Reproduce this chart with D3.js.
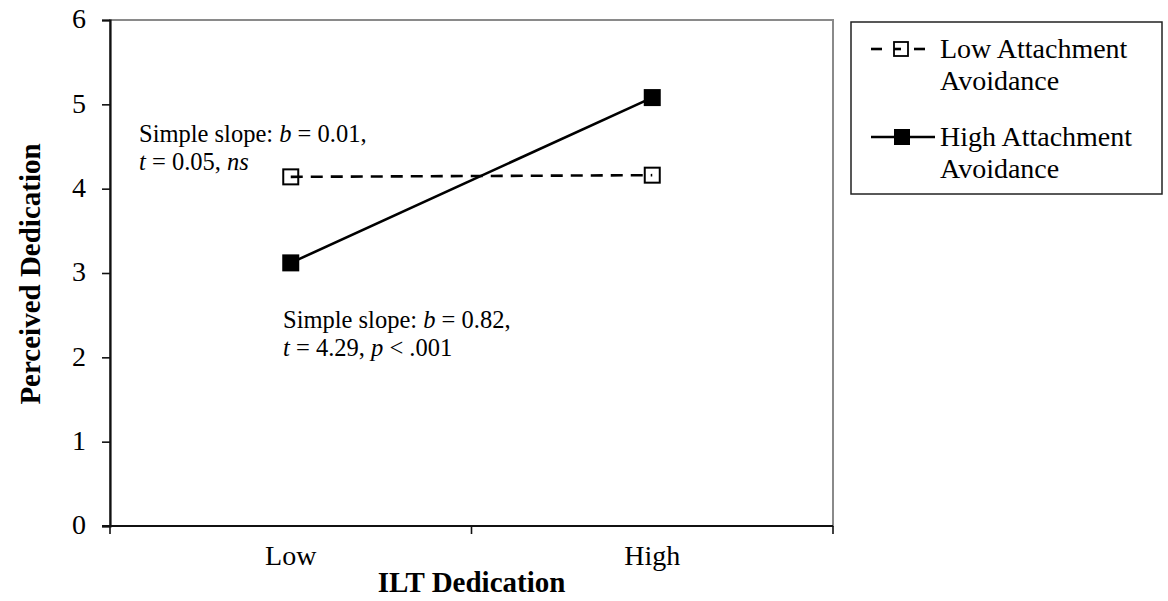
<!DOCTYPE html>
<html><head><meta charset="utf-8">
<script src="https://cdn.jsdelivr.net/npm/d3@7"></script>
<style>
body{margin:0;background:#fff;}
svg{display:block;font-family:"Liberation Serif","Times New Roman",serif;}
svg text{font-family:"Liberation Serif","Times New Roman",serif;}
</style></head>
<body><svg id="c" width="1168" height="601"></svg>
<script>
const categories = ["Low", "High"];
const seriesNames = ["Low Attachment Avoidance", "High Attachment Avoidance"];
const lowAvoidance = [4.14, 4.16];
const highAvoidance = [3.12, 5.08];
const yTicks = [0, 1, 2, 3, 4, 5, 6];

const svg = d3.select("#c");
const m = {l: 110, r: 833, t: 20, b: 526};
const x = d3.scaleBand().domain(categories).range([m.l, m.r]).padding(0);
const y = d3.scaleLinear().domain([0, 6]).range([m.b, m.t]);
const cx = d => x(d) + x.bandwidth() / 2;

// plot border (gray)
svg.append("rect").attr("x", m.l).attr("y", m.t).attr("width", m.r - m.l).attr("height", m.b - m.t)
  .attr("fill", "none").attr("stroke", "#8a8a8a").attr("stroke-width", 2);

// y axis
const yAxis = svg.append("g").attr("transform", `translate(${m.l},0)`)
  .call(d3.axisLeft(y).tickValues(yTicks).tickSize(8).tickPadding(16).tickFormat(d3.format("d")));
yAxis.attr("font-family", null).attr("font-size", null);
yAxis.select(".domain").attr("stroke", "#111").attr("stroke-width", 2.2);
yAxis.selectAll(".tick line").attr("stroke", "#111").attr("stroke-width", 1.6);
yAxis.selectAll("text").attr("font-size", 28).attr("fill", "#000").attr("dy", "0.28em");

// x axis: ticks at band edges
const xg = svg.append("g").attr("transform", `translate(0,${m.b})`);
xg.append("line").attr("x1", m.l - 8).attr("x2", m.r).attr("stroke", "#111").attr("stroke-width", 2.2);
const edges = [x(categories[0]), x(categories[1]), x(categories[1]) + x.bandwidth()];
xg.selectAll(".tk").data(edges).join("line").attr("x1", d => d).attr("x2", d => d)
  .attr("y1", 0).attr("y2", 8).attr("stroke", "#111").attr("stroke-width", 1.6);
xg.selectAll(".lab").data(categories).join("text").attr("x", d => cx(d)).attr("y", 39)
  .attr("text-anchor", "middle").attr("font-size", 28).text(d => d);

// axis titles
svg.append("text").attr("x", cx("Low") + x.bandwidth() / 2).attr("y", 592).attr("text-anchor", "middle")
  .attr("font-size", 29).attr("font-weight", "bold").text("ILT Dedication");
svg.append("text").attr("transform", "translate(40,274) rotate(-90)").attr("text-anchor", "middle")
  .attr("font-size", 29).attr("font-weight", "bold").text("Perceived Dedication");

// lines
const line = d3.line().x((d, i) => cx(categories[i])).y(d => y(d));
svg.append("path").datum(lowAvoidance).attr("d", line).attr("fill", "none").attr("stroke", "#000")
  .attr("stroke-width", 2.6).attr("stroke-dasharray", "12,8");
svg.append("path").datum(highAvoidance).attr("d", line).attr("fill", "none").attr("stroke", "#000")
  .attr("stroke-width", 2.6);
const ms = 15;
svg.selectAll(".m1").data(lowAvoidance).join("rect")
  .attr("x", (d, i) => cx(categories[i]) - ms / 2).attr("y", d => y(d) - ms / 2)
  .attr("width", ms).attr("height", ms).attr("fill", "none").attr("stroke", "#000").attr("stroke-width", 2);
svg.selectAll(".m2").data(highAvoidance).join("rect")
  .attr("x", (d, i) => cx(categories[i]) - ms / 2 - 1).attr("y", d => y(d) - ms / 2 - 1)
  .attr("width", ms + 2).attr("height", ms + 2).attr("fill", "#000");

// annotations
function ann(xp, yp, parts1, parts2) {
  [parts1, parts2].forEach((parts, li) => {
    const t = svg.append("text").attr("x", xp).attr("y", yp + li * 28).attr("font-size", 24.5);
    parts.forEach(p => t.append("tspan").attr("font-style", p[1] ? "italic" : null).text(p[0]));
  });
}
ann(139, 142, [["Simple slope: "], ["b", 1], [" = 0.01,"]], [["t", 1], [" = 0.05, "], ["ns", 1]]);
ann(283, 328, [["Simple slope: "], ["b", 1], [" = 0.82,"]], [["t", 1], [" = 4.29, "], ["p", 1], [" < .001"]]);

// legend
svg.append("rect").attr("x", 851).attr("y", 22).attr("width", 311).attr("height", 172)
  .attr("fill", "#fff").attr("stroke", "#222").attr("stroke-width", 1.5);
const leg = [{y: 49, dash: true, lines: ["Low Attachment", "Avoidance"], ty: 58},
             {y: 137, dash: false, lines: ["High Attachment", "Avoidance"], ty: 146}];
leg.forEach((L, i) => {
  if (L.dash) {
    svg.append("line").attr("x1", 871).attr("x2", 882).attr("y1", L.y).attr("y2", L.y).attr("stroke", "#000").attr("stroke-width", 2.6);
    svg.append("line").attr("x1", 894).attr("x2", 901).attr("y1", L.y).attr("y2", L.y).attr("stroke", "#000").attr("stroke-width", 2.6);
    svg.append("line").attr("x1", 914).attr("x2", 925).attr("y1", L.y).attr("y2", L.y).attr("stroke", "#000").attr("stroke-width", 2.6);
    svg.append("rect").attr("x", 894).attr("y", L.y - 7).attr("width", 14).attr("height", 14).attr("fill", "none").attr("stroke", "#000").attr("stroke-width", 1.8);
  } else {
    svg.append("line").attr("x1", 871).attr("x2", 935).attr("y1", L.y).attr("y2", L.y).attr("stroke", "#000").attr("stroke-width", 2.6);
    svg.append("rect").attr("x", 894).attr("y", L.y - 8).attr("width", 16).attr("height", 16).attr("fill", "#000");
  }
  L.lines.forEach((s, j) => svg.append("text").attr("x", 940).attr("y", L.ty + j * 32).attr("font-size", 28).text(s));
});
</script></body></html>
